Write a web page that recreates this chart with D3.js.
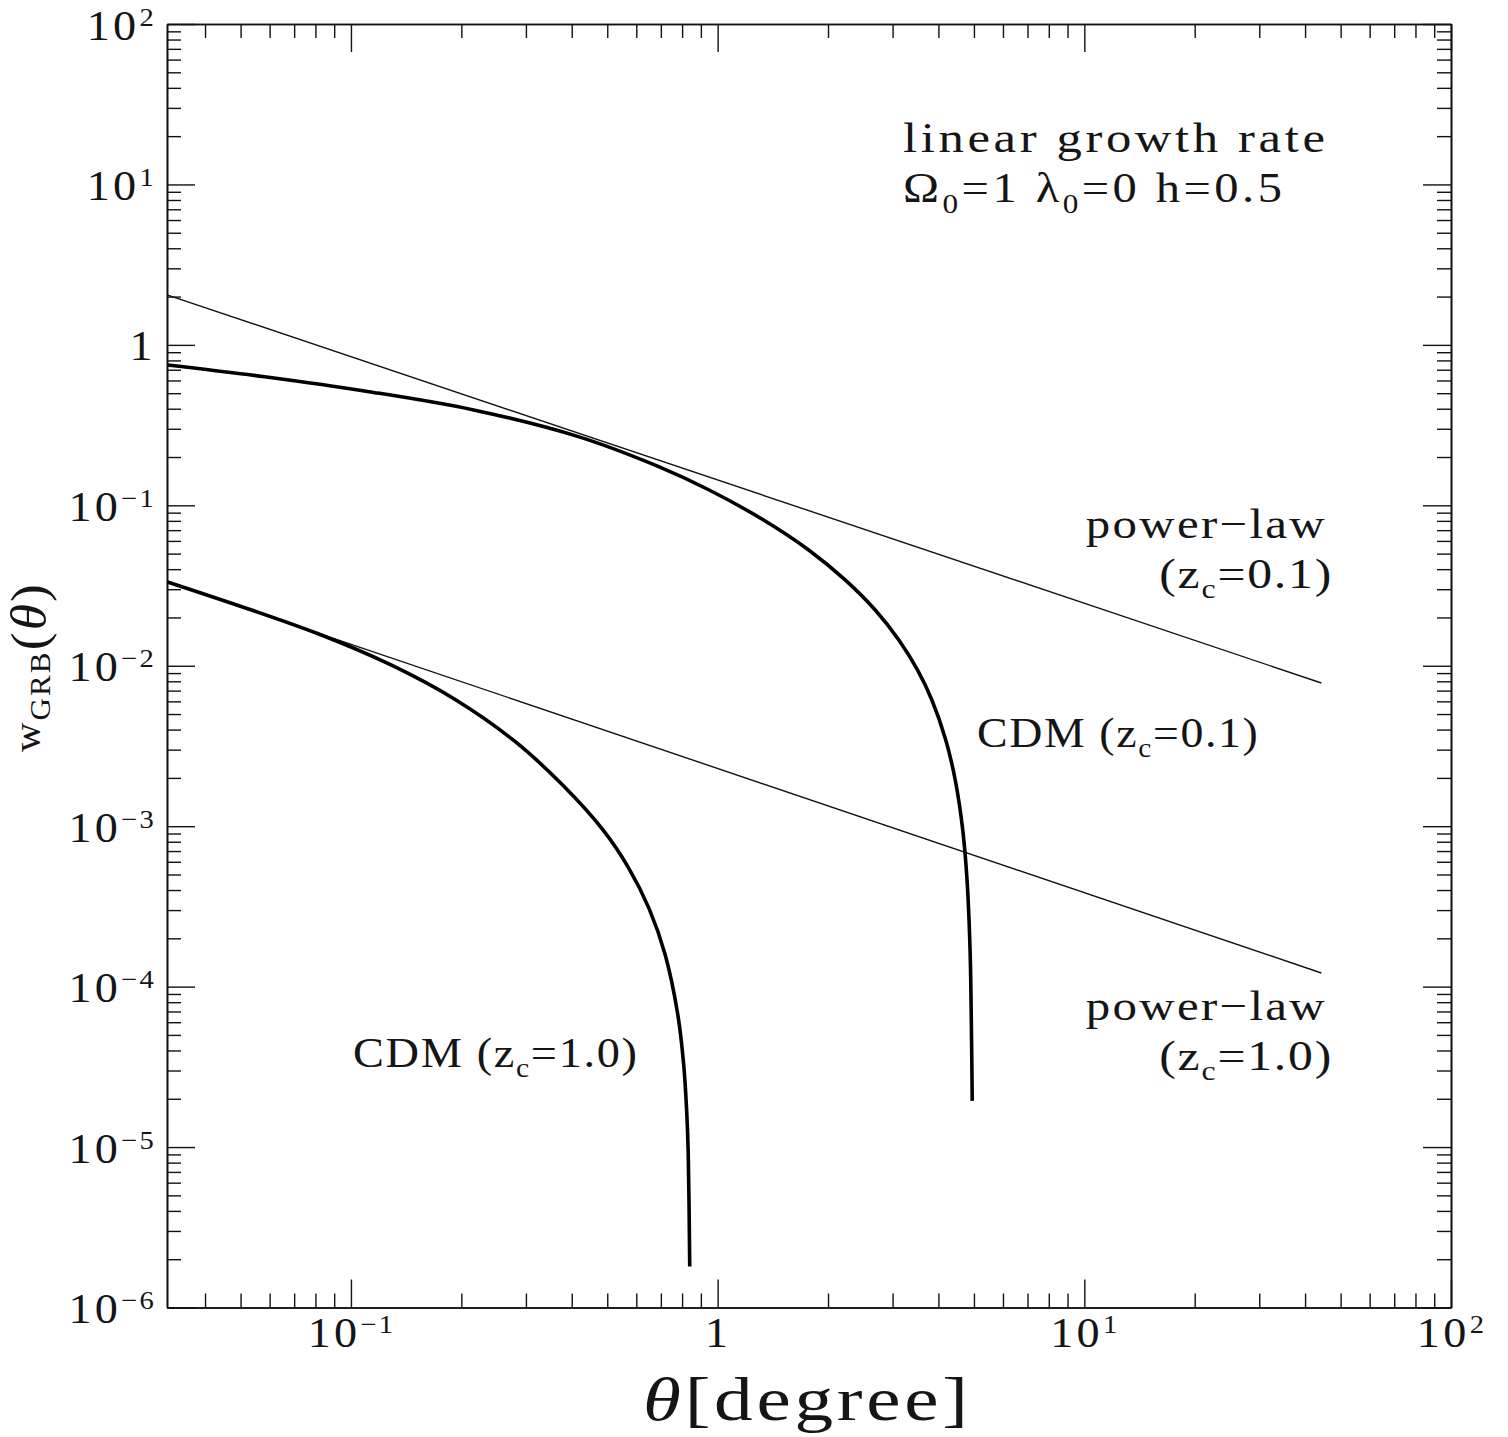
<!DOCTYPE html>
<html>
<head>
<meta charset="utf-8">
<script src="https://cdn.jsdelivr.net/npm/d3@7"></script>
<style>
  body { margin: 0; background: #fff; }
  svg { display: block; }
  text { font-family: 'Liberation Serif', 'Times New Roman', serif; fill: #151515; }
</style>
</head>
<body>
<svg id="chart" width="1508" height="1437"></svg>
<script>
// Axis ranges (log-log)
const thetaDomain = [0.0315, 100];
const wDomain = [1e-6, 1e2];

// Major tick values and their labels (base + exponent)
const xMajorTicks = [0.1, 1, 10, 100];
const xTickBase = ["10", "1", "10", "10"];
const xTickExp = ["\u22121", "", "1", "2"];
const yMajorTicks = [1e2, 1e1, 1, 1e-1, 1e-2, 1e-3, 1e-4, 1e-5, 1e-6];
const yTickBase = ["10", "10", "1", "10", "10", "10", "10", "10", "10"];
const yTickExp = ["2", "1", "", "\u22121", "\u22122", "\u22123", "\u22124", "\u22125", "\u22126"];

// Power-law fits (straight lines in log-log)
const powerLawTheta = [0.0315, 44.3];
const powerLawZ01 = [2.05, 0.00781];
const powerLawZ10 = [0.0333, 1.216e-4];

// CDM angular correlation, z_c = 0.1
const cdmZ01Theta = [0.0316, 0.0581, 0.112, 0.216, 0.417, 0.683, 0.948, 1.334, 1.771, 2.231, 2.690,
                     3.120, 3.507, 3.839, 4.189, 4.446, 4.661, 4.788, 4.880, 4.918, 4.947];
const cdmZ01W = [0.749, 0.633, 0.511, 0.393, 0.268, 0.176, 0.1246, 0.0810, 0.0527, 0.0342, 0.02226,
                 0.01447, 0.00941, 0.00612, 0.003446, 0.001941, 9.47e-4, 4.62e-4, 1.692e-4, 6.19e-5, 1.94e-5];

// CDM angular correlation, z_c = 1.0
const cdmZ10Theta = [0.0316, 0.0807, 0.1286, 0.1933, 0.2796, 0.3772, 0.4885, 0.5706, 0.6502,
                     0.7190, 0.7782, 0.8079, 0.8232, 0.8312, 0.8392];
const cdmZ10W = [0.0333, 0.01594, 0.01011, 0.00612, 0.003387, 0.001811, 9.39e-4, 5.54e-4, 3.065e-4,
                 1.586e-4, 6.75e-5, 3.27e-5, 1.69e-5, 9.36e-6, 1.80e-6];

const L = 167, R = 1451, T = 24, B = 1307.5;
const svg = d3.select("#chart");

const x = d3.scaleLog().domain(thetaDomain).range([L, R]);
const y = d3.scaleLog().domain(wDomain).range([B, T]);

// minor ticks: 2..9 x 10^k inside each domain
function minorTicks(dom) {
  const out = [];
  for (let k = Math.floor(Math.log10(dom[0])); k <= Math.ceil(Math.log10(dom[1])); k++) {
    for (let m = 2; m <= 9; m++) {
      const v = m * Math.pow(10, k);
      if (v >= dom[0] * 1.0001 && v <= dom[1] * 0.9999) out.push(v);
    }
  }
  return out;
}
const xMinor = minorTicks(thetaDomain);
const yMinor = minorTicks(wDomain);

const MAJ = 28, MIN = 14;

function axisGroup(axisGen, transform) {
  const g = svg.append("g").attr("transform", transform).call(axisGen);
  g.select(".domain").attr("stroke", "#111").attr("stroke-width", 1.6);
  g.selectAll(".tick line").attr("stroke", "#111").attr("stroke-width", 1.4);
  return g;
}

// inward-pointing ticks on all four sides
axisGroup(d3.axisBottom(x).tickValues(xMinor).tickSizeInner(-MIN).tickSizeOuter(0).tickFormat(""), `translate(0,${B})`);
axisGroup(d3.axisTop(x).tickValues(xMinor).tickSizeInner(-MIN).tickSizeOuter(0).tickFormat(""), `translate(0,${T})`);
axisGroup(d3.axisTop(x).tickValues(xMajorTicks).tickSizeInner(-MAJ).tickSizeOuter(0).tickFormat(""), `translate(0,${T})`);
axisGroup(d3.axisLeft(y).tickValues(yMinor).tickSizeInner(-MIN).tickSizeOuter(0).tickFormat(""), `translate(${L},0)`);
axisGroup(d3.axisRight(y).tickValues(yMinor).tickSizeInner(-MIN).tickSizeOuter(0).tickFormat(""), `translate(${R},0)`);
axisGroup(d3.axisRight(y).tickValues(yMajorTicks).tickSizeInner(-MAJ).tickSizeOuter(0).tickFormat(""), `translate(${R},0)`);

// labelled major axes (labels slightly widened)
const xAxisG = axisGroup(
  d3.axisBottom(x).tickValues(xMajorTicks).tickSizeInner(-MAJ).tickSizeOuter(0)
    .tickFormat((d, i) => xTickBase[i]), `translate(0,${B})`);
xAxisG.selectAll(".tick text").each(function(d, i) {
  const t = d3.select(this);
  t.attr("y", 40).attr("dy", null).attr("fill", "#151515").attr("transform", "scale(1.1,1)")
   .style("font-size", "42px").style("letter-spacing", "3px").attr("text-anchor", "middle");
  if (xTickExp[i]) {
    t.append("tspan").attr("dy", -14).style("font-size", "26px").style("letter-spacing", "2px").text(xTickExp[i]);
  }
});

const yAxisG = axisGroup(
  d3.axisLeft(y).tickValues(yMajorTicks).tickSizeInner(-MAJ).tickSizeOuter(0)
    .tickFormat((d, i) => yTickBase[i]), `translate(${L},0)`);
yAxisG.selectAll(".tick text").each(function(d, i) {
  const t = d3.select(this);
  t.attr("x", -10).attr("y", 15).attr("dy", null).attr("fill", "#151515").attr("transform", "scale(1.1,1)")
   .style("font-size", "42px").style("letter-spacing", "3px").attr("text-anchor", "end");
  if (yTickExp[i]) {
    t.append("tspan").attr("dy", -14).style("font-size", "26px").style("letter-spacing", "2px").text(yTickExp[i]);
  }
});

// curves: power laws are straight, CDM curves drawn as smooth splines through the points
const line = d3.line().x(d => x(d[0])).y(d => y(d[1]));
const smooth = d3.line().x(d => x(d[0])).y(d => y(d[1])).curve(d3.curveCatmullRom.alpha(0.5));
const zip = (a, b) => a.map((v, i) => [v, b[i]]);

const plot = svg.append("g");
plot.append("path").datum(zip(powerLawTheta, powerLawZ01)).attr("d", line)
  .attr("fill", "none").attr("stroke", "#111").attr("stroke-width", 1.4);
plot.append("path").datum(zip(powerLawTheta, powerLawZ10)).attr("d", line)
  .attr("fill", "none").attr("stroke", "#111").attr("stroke-width", 1.4);
plot.append("path").datum(zip(cdmZ01Theta, cdmZ01W)).attr("d", smooth)
  .attr("fill", "none").attr("stroke", "#000").attr("stroke-width", 3.6);
plot.append("path").datum(zip(cdmZ10Theta, cdmZ10W)).attr("d", smooth)
  .attr("fill", "none").attr("stroke", "#000").attr("stroke-width", 3.6);

// rich text: parts are strings or {t, size, shift, italic}; the run is stretched
// horizontally to the given width, anchored at (px, py)
function rich(parent, px, py, anchor, size, spacing, width, parts) {
  const g = parent.append("g").attr("transform", `translate(${px},${py})`);
  const t = g.append("text").attr("x", 0).attr("y", 0).attr("text-anchor", anchor)
    .style("font-size", size + "px").style("letter-spacing", spacing + "px");
  let shift = 0;
  parts.forEach(p => {
    const o = typeof p === "string" ? { t: p } : p;
    const target = o.shift || 0;
    const ts = t.append("tspan").text(o.t);
    if (target !== shift) { ts.attr("dy", target - shift); shift = target; }
    if (o.size) ts.style("font-size", o.size + "px");
    if (o.italic) ts.style("font-style", "italic");
  });
  const w = t.node().getBBox().width - spacing;
  if (width && w > 0) g.attr("transform", `translate(${px},${py}) scale(${width / w},1)`);
  return g;
}

const ann = svg.append("g");
rich(ann, 903, 152, "start", 42, 3, 422, ["linear growth rate"]);
rich(ann, 903, 202, "start", 42, 3, 379, [
  "\u03A9", { t: "0", size: 27, shift: 11 }, { t: "=1  \u03BB" }, { t: "0", size: 27, shift: 11 },
  { t: "=0  h=0.5" }]);
rich(ann, 1327, 538, "end", 42, 2, 239, ["power\u2212law"]);
rich(ann, 1333, 588, "end", 42, 1.5, 172, ["(z", { t: "c", size: 27, shift: 10 }, { t: "=0.1)" }]);
rich(ann, 1327, 1020, "end", 42, 2, 239, ["power\u2212law"]);
rich(ann, 1333, 1070, "end", 42, 1.5, 172, ["(z", { t: "c", size: 27, shift: 10 }, { t: "=1.0)" }]);
rich(ann, 977, 747, "start", 42, 1.5, 281, ["CDM  (z", { t: "c", size: 27, shift: 10 }, { t: "=0.1)" }]);
rich(ann, 353, 1067, "start", 42, 1.5, 284, ["CDM  (z", { t: "c", size: 27, shift: 10 }, { t: "=1.0)" }]);

// axis titles
rich(svg, 643, 1420, "start", 62, 3, 325, [{ t: "\u03B8", italic: true }, { t: "[degree]" }]);

const yt = svg.append("g").attr("transform", "translate(40,752) rotate(-90)");
rich(yt, 0, 0, "start", 38, 2, 168, [
  "w", { t: "GRB", size: 29, shift: 10 }, { t: "(", size: 50, shift: 6 }, { t: "\u03B8", size: 50, italic: true, shift: 6 },
  { t: ")", size: 50, shift: 6 }]);
</script>
</body>
</html>
